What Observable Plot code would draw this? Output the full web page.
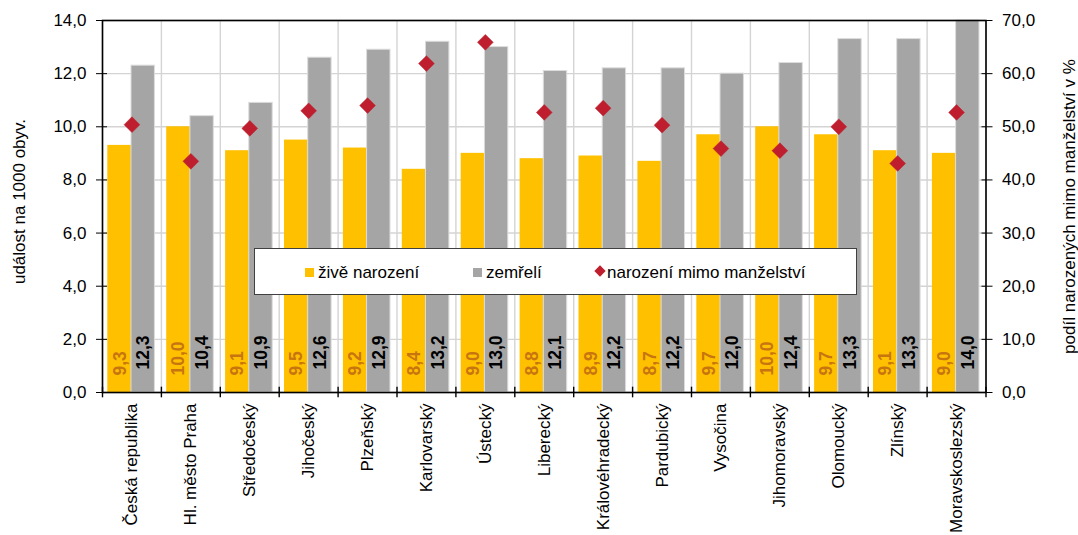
<!DOCTYPE html>
<html>
<head>
<meta charset="utf-8">
<script src="https://cdn.jsdelivr.net/npm/d3@7"></script>
<script src="https://cdn.jsdelivr.net/npm/@observablehq/plot@0.6"></script>
<style>
  html, body { margin: 0; padding: 0; background: #fff; }
  #wrap { position: relative; width: 1078px; height: 535px; overflow: hidden; font-family: "Liberation Sans", Arial, sans-serif; }
  .legend { position: absolute; left: 254px; top: 248px; width: 603px; height: 47px; box-sizing: border-box; border: 1.5px solid #404040; background: #fff; font-size: 17px; color: #000; }
  .legend .sw { position: absolute; top: 19px; width: 9px; height: 9px; }
  .legend .lb { position: absolute; top: 14px; line-height: 20px; white-space: nowrap; }
  .legend .dm { position: absolute; top: 18px; width: 8px; height: 8px; background: #BE1E2D; transform: rotate(45deg); }
</style>
</head>
<body>
<div id="wrap"></div>
<script>
const categories = ["Česká republika", "Hl. město Praha", "Středočeský", "Jihočeský", "Plzeňský", "Karlovarský", "Ústecký", "Liberecký", "Královéhradecký", "Pardubický", "Vysočina", "Jihomoravský", "Olomoucký", "Zlínský", "Moravskoslezský"];
const births = [9.3, 10.0, 9.1, 9.5, 9.2, 8.4, 9.0, 8.8, 8.9, 8.7, 9.7, 10.0, 9.7, 9.1, 9.0];
const deaths = [12.3, 10.4, 10.9, 12.6, 12.9, 13.2, 13.0, 12.1, 12.2, 12.2, 12.0, 12.4, 13.3, 13.3, 14.0];
const outOfWedlock = [50.4, 43.5, 49.7, 53.0, 54.0, 61.9, 65.9, 52.7, 53.5, 50.3, 45.9, 45.5, 50.0, 43.1, 52.7];
const leftTicks = [0, 2, 4, 6, 8, 10, 12, 14];
const rightTicks = [0, 10, 20, 30, 40, 50, 60, 70];
const seriesNames = ["živě narození", "zemřelí", "narození mimo manželství"];
const leftTitle = "událost na 1000 obyv.";
const rightTitle = "podíl narozených mimo manželství v %";

const fmt = v => v.toFixed(1).replace(".", ",");
const ratio = rightTicks[rightTicks.length - 1] / leftTicks[leftTicks.length - 1];
const rows = categories.map((c, i) => ({c, b: births[i], d: deaths[i], p: outOfWedlock[i]}));

const W = 1078, H = 535, ML = 102, MR = 92.5, MT = 20, MB = 143;
const step = (W - ML - MR) / categories.length;
const yellow = "#FFC000", grey = "#A5A5A5", red = "#BE1E2D", grid = "#d4d4d4";
const last = categories[categories.length - 1];

const chart = Plot.plot({
  width: W, height: H,
  marginLeft: ML, marginRight: MR, marginTop: MT, marginBottom: MB,
  style: {fontFamily: "Liberation Sans, Arial, sans-serif", fontSize: "17px", background: "#fff", color: "#000"},
  x: {type: "band", domain: categories, padding: 0, paddingInner: 0, paddingOuter: 0, round: false, label: null},
  y: {domain: [0, 14], label: null},
  marks: [
    Plot.ruleY(leftTicks, {y: d => d, stroke: grid, strokeWidth: 1.4}),
    Plot.ruleX(categories, {x: d => d, dx: -step / 2, stroke: grid, strokeWidth: 1.4}),
    Plot.ruleX([last], {x: d => d, dx: step / 2, stroke: grid, strokeWidth: 1.4}),
    Plot.barY(rows, {x: "c", y: "b", fill: yellow, insetLeft: 5.3, insetRight: step - 29}),
    Plot.barY(rows, {x: "c", y: "d", fill: grey, stroke: "#dcdcdc", strokeWidth: 1, insetLeft: 29, insetRight: 6.5}),
    Plot.text(rows, {x: "c", y: 0, text: d => fmt(d.b), rotate: -90, textAnchor: "start", dy: -17, dx: -12, fill: "#C87510", fontWeight: "bold", fontSize: 17.5}),
    Plot.text(rows, {x: "c", y: 0, text: d => fmt(d.d), rotate: -90, textAnchor: "start", dy: -23, dx: 11.5, fill: "#000", fontWeight: "bold", fontSize: 17.5}),
    Plot.dot(rows, {x: "c", y: d => d.p / ratio, symbol: "diamond2", r: 7.1, fill: red, stroke: red, strokeWidth: 0.5}),
    Plot.frame({stroke: "#000", strokeWidth: 1.6}),
    Plot.ruleX(categories, {x: d => d, dx: -step / 2, y1: -0.2, y2: 0.2, stroke: "#000", strokeWidth: 1.4}),
    Plot.ruleX([last], {x: d => d, dx: step / 2, y1: -0.2, y2: 0.2, stroke: "#000", strokeWidth: 1.4}),
    Plot.axisY({anchor: "left", ticks: leftTicks, tickSize: 6, tickPadding: 10, tickFormat: fmt, fontSize: 17, label: null}),
    Plot.axisY({anchor: "left", ticks: leftTicks, tickSize: -5, tickFormat: () => "", label: null}),
    Plot.axisY({anchor: "right", ticks: rightTicks.map(d => d / ratio), tickSize: 6, tickPadding: 10, tickFormat: d => fmt(d * ratio), fontSize: 17, label: null}),
    Plot.axisY({anchor: "right", ticks: rightTicks.map(d => d / ratio), tickSize: -5, tickFormat: () => "", label: null}),
    Plot.axisX({anchor: "bottom", tickSize: 0, tickPadding: 11, tickRotate: -90, fontSize: 17, label: null}),
    Plot.text([leftTitle], {frameAnchor: "left", dx: -83, dy: -5, rotate: -90, textAnchor: "middle", fontSize: 17}),
    Plot.text([rightTitle], {frameAnchor: "right", dx: 84, rotate: -90, textAnchor: "middle", fontSize: 17})
  ]
});

const wrap = document.getElementById("wrap");
wrap.appendChild(chart);

const legend = document.createElement("div");
legend.className = "legend";
legend.innerHTML =
  `<div class="sw" style="left:50px;background:${yellow}"></div><div class="lb" style="left:63px">${seriesNames[0]}</div>` +
  `<div class="sw" style="left:218px;background:${grey}"></div><div class="lb" style="left:231px">${seriesNames[1]}</div>` +
  `<div class="dm" style="left:341px"></div><div class="lb" style="left:352px">${seriesNames[2]}</div>`;
wrap.appendChild(legend);
</script>
</body>
</html>
